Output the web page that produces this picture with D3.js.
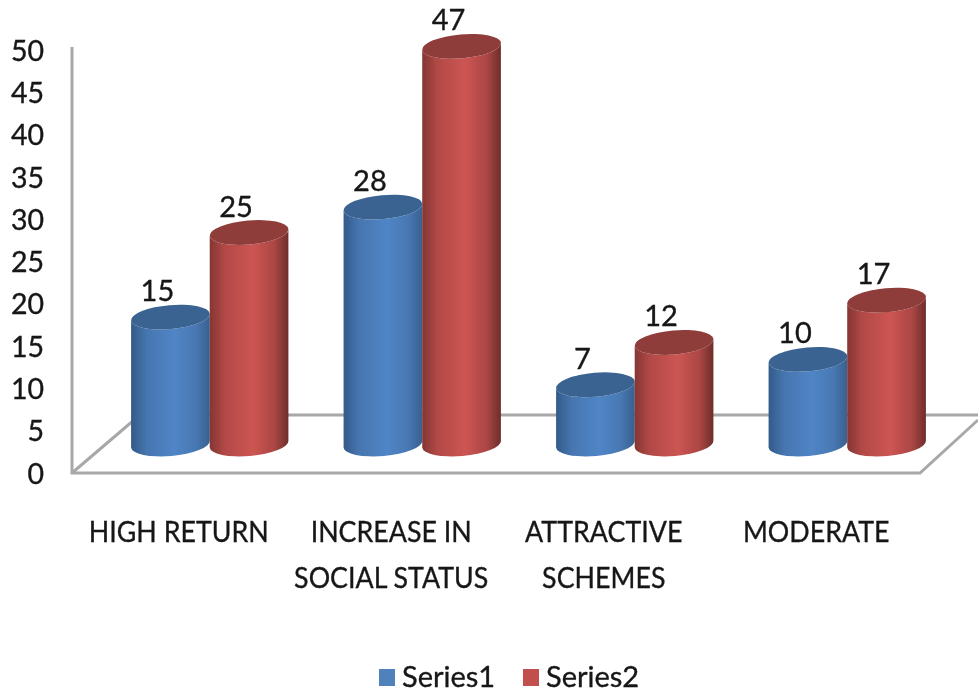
<!DOCTYPE html>
<html><head><meta charset="utf-8">
<script src="https://cdn.jsdelivr.net/npm/d3@7"></script>
<style>
html,body{margin:0;padding:0;background:#fff;}
svg{display:block;}
text{font-family:Lato,"Open Sans",sans-serif;fill:#161616;stroke:#161616;stroke-width:.35px;}
</style></head><body>
<div id="chart"></div>
<script>
const categories = [["HIGH RETURN"],["INCREASE IN","SOCIAL STATUS"],["ATTRACTIVE","SCHEMES"],["MODERATE"]];
const seriesNames = ["Series1","Series2"];
const series1 = [15,28,7,10];
const series2 = [25,47,12,17];
const yTicks = [0,5,10,15,20,25,30,35,40,45,50];

const W=978,H=692;
const root=d3.select("#chart").append("svg").attr("width",W).attr("height",H);
const defs=root.append("defs");
defs.append("filter").attr("id","soft")
  .attr("filterUnits","userSpaceOnUse").attr("x",0).attr("y",0).attr("width",W).attr("height",H)
  .append("feGaussianBlur").attr("stdDeviation",0.55);
const svg=root.append("g").attr("filter","url(#soft)");
const palettes=[
  {edge:"#335a88",mid:"#5085c6",right:"#38608f",top:"#3b6491",key:"#4f81bd"},
  {edge:"#843633",mid:"#cc5552",right:"#6f2d2b",top:"#8f3c3a",key:"#c0504d"}
];
palettes.forEach((p,i)=>{
  const g=defs.append("linearGradient").attr("id","g"+i);
  [[0,p.edge],[.2,d3.interpolateRgb(p.edge,p.mid)(.65)],[.55,p.mid],[.82,d3.interpolateRgb(p.mid,p.right)(.35)],[1,p.right]]
    .forEach(s=>g.append("stop").attr("offset",s[0]).attr("stop-color",s[1]));
});

const wallY=d3.scaleLinear().domain([0,50]).range([474,51]);
const barY=d3.scaleLinear().domain([0,50]).range([444,21]);
const x0=d3.scaleBand().domain(d3.range(categories.length)).range([103.5,953.5]).paddingInner(.26).paddingOuter(.13);
const x1=d3.scaleBand().domain(d3.range(seriesNames.length)).range([0,x0.bandwidth()]);

// floor and wall
const grid="#a8a8a8";
const frame=svg.append("g").attr("fill","none").attr("stroke",grid).attr("stroke-width",3);
frame.append("path").attr("d","M72,47V473H920L978,420");
frame.append("path").attr("d","M72,473L134,420");
frame.append("path").attr("d","M134,415H978");

const axis=svg.append("g").attr("transform","translate(60,0)")
  .call(d3.axisLeft(wallY).tickValues(yTicks).tickSize(0).tickPadding(0));
axis.select(".domain").remove();
axis.selectAll("text").attr("font-size",28.5).style("font-family","Lato").attr("fill","#161616").attr("x",-16);

// cylinders
const rx=39.5,ry=12,tilt=-5,tr=tilt*Math.PI/180;
const dx=rx*Math.cos(tr),dy=rx*Math.sin(tr);
[series1,series2].forEach((vals,s)=>{
  const g=svg.append("g");
  vals.forEach((v,i)=>{
    const cx=x0(i)+x1(s)+x1.bandwidth()/2, t=barY(v), b=barY(0);
    g.append("path")
      .attr("d",`M${cx-dx},${t-dy}L${cx-dx},${b-dy}A${rx},${ry} ${tilt} 0 0 ${cx+dx},${b+dy}L${cx+dx},${t+dy}A${rx},${ry} ${tilt} 0 1 ${cx-dx},${t-dy}Z`)
      .attr("fill",`url(#g${s})`);
    g.append("ellipse").attr("rx",rx).attr("ry",ry)
      .attr("transform",`translate(${cx},${t}) rotate(${tilt})`)
      .attr("fill",palettes[s].top);
  });
});
// value labels
[series1,series2].forEach((vals,s)=>{
  vals.forEach((v,i)=>{
    const cx=x0(i)+x1(s)+x1.bandwidth()/2;
    svg.append("text").attr("x",cx-13).attr("y",barY(v)-16)
      .attr("text-anchor","middle").attr("font-size",29).text(v);
  });
});
// category labels
categories.forEach((lines,i)=>{
  const cx=x0(i)+x0.bandwidth()/2-31;
  lines.forEach((l,j)=>{
    svg.append("text").attr("transform",`translate(${cx},${542+j*46}) scale(.925,1)`)
      .attr("text-anchor","middle").attr("font-size",29).text(l);
  });
});
// legend
const legendX=d3.scaleOrdinal().domain(seriesNames).range([379,523]);
seriesNames.forEach((n,s)=>{
  svg.append("rect").attr("x",legendX(n)).attr("y",669).attr("width",16).attr("height",17).attr("fill",palettes[s].key);
  svg.append("text").attr("x",legendX(n)+23).attr("y",687).attr("font-size",29).text(n);
});
</script></body></html>
